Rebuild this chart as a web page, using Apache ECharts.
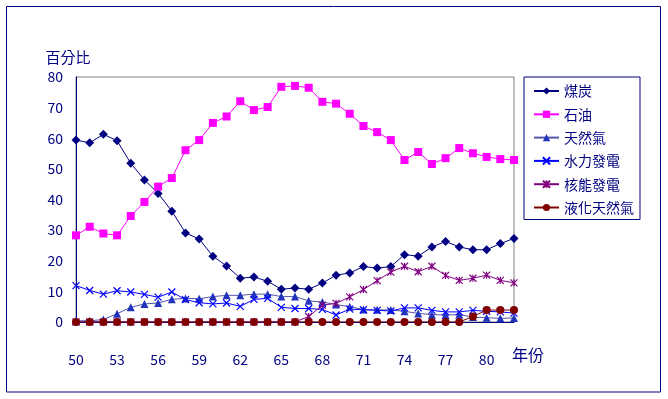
<!DOCTYPE html>
<html>
<head>
<meta charset="utf-8">
<script src="https://cdn.jsdelivr.net/npm/echarts@6/dist/echarts.min.js"></script>
<style>
  html, body { margin: 0; padding: 0; background: #fff; }
  #main { width: 668px; height: 399px; }
</style>
</head>
<body>
<div id="main"></div>
<script>
// 年份 50 ~ 82
var years = []
for (var y = 50; y <= 82; y++) years.push(String(y))

var coal = [59.4, 58.5, 61.3, 59.2, 51.8, 46.4, 42.0, 36.2, 29.1, 27.1, 21.5, 18.3, 14.3, 14.7, 13.3, 10.7,
  11.1, 10.7, 12.7, 15.3, 16.0, 18.1, 17.6, 18.1, 22.0, 21.5, 24.5, 26.3, 24.5, 23.6, 23.6, 25.6, 27.3]
var oil = [28.3, 31.1, 28.9, 28.3, 34.6, 39.2, 44.2, 47.0, 56.1, 59.4, 65.0, 67.1, 72.1, 69.2, 70.2, 76.8,
  77.1, 76.5, 71.9, 71.3, 68.0, 64.0, 62.0, 59.4, 52.9, 55.5, 51.6, 53.5, 56.8, 55.1, 53.9, 53.2, 52.9]
var gas = [0.4, 0.4, 0.8, 2.7, 4.8, 5.9, 6.2, 7.4, 7.7, 7.6, 8.3, 8.7, 8.7, 9.1, 9.1, 8.3,
  8.3, 6.9, 6.5, 5.7, 5.0, 4.1, 4.0, 3.9, 3.5, 2.8, 2.4, 2.3, 2.4, 1.6, 1.4, 1.2, 1.3]
var hydro = [11.9, 10.3, 9.1, 10.2, 9.8, 9.0, 8.1, 9.8, 7.3, 6.3, 5.9, 6.2, 5.1, 7.4, 7.7, 4.8,
  4.4, 4.4, 4.1, 2.3, 4.2, 4.0, 3.8, 3.6, 4.6, 4.6, 3.8, 3.3, 3.3, 3.8, 3.5, 3.3, 2.9]
var nuclear = [0, 0, 0, 0, 0, 0, 0, 0, 0, 0, 0, 0, 0, 0, 0, 0,
  0, 1.8, 5.5, 6.1, 8.2, 10.6, 13.5, 16.3, 18.2, 16.4, 18.2, 15.2, 13.6, 14.3, 15.3, 13.6, 12.8]
var lng = [0, 0, 0, 0, 0, 0, 0, 0, 0, 0, 0, 0, 0, 0, 0, 0,
  0, 0, 0, 0, 0, 0, 0, 0, 0, 0, 0, 0, 0, 1.8, 3.9, 3.9, 3.9]

var navy = '#000080'
var font = '"Noto Sans CJK TC", "Liberation Sans", sans-serif'

var xMark = 'path://M0,0L10,10M10,0L0,10'
var starMark = 'path://M0,0L10,10M10,0L0,10M5,0L5,10'

function line(name, data, lineColor, symbol, size, markColor, stroke) {
  return {
    name: name,
    type: 'line',
    data: data,
    symbol: symbol,
    symbolSize: size,
    showSymbol: true,
    showAllSymbol: true,
    lineStyle: { color: lineColor, width: 1 },
    itemStyle: stroke
      ? { color: markColor, borderColor: markColor, borderWidth: 1.2 }
      : { color: markColor, borderWidth: 0 },
    emphasis: { disabled: true }
  }
}

var myChart = echarts.init(document.getElementById('main'))

var option = {
  animation: false,
  textStyle: { fontFamily: font },
  grid: {
    left: 76, top: 77, right: 154, bottom: 77,
    show: true, borderColor: '#808080', borderWidth: 1
  },
  legend: {
    orient: 'vertical',
    left: 524, top: 77,
    padding: [7, 6, 5, 9],
    itemWidth: 25, itemHeight: 9, itemGap: 9.3,
    borderColor: navy, borderWidth: 1,
    selectedMode: false,
    textStyle: { color: navy, fontSize: 14, lineHeight: 14, fontFamily: font }
  },
  xAxis: {
    type: 'category',
    data: years,
    boundaryGap: false,
    axisLine: { lineStyle: { color: navy, width: 1 } },
    axisTick: { show: false },
    axisLabel: { interval: 2, color: navy, fontSize: 14, margin: 31, fontFamily: font },
    splitLine: { show: false }
  },
  yAxis: {
    type: 'value',
    min: 0, max: 80, interval: 10,
    name: '百分比',
    nameGap: 12,
    nameTextStyle: { color: navy, fontSize: 15, padding: [0, 16, 0, 0], fontFamily: font },
    axisLine: { show: true, lineStyle: { color: navy, width: 1 } },
    axisTick: { show: false },
    axisLabel: { color: navy, fontSize: 14, margin: 13, fontFamily: font },
    splitLine: { show: false }
  },
  graphic: [
    {
      type: 'rect',
      shape: { x: 6.5, y: 6.5, width: 654, height: 385.5 },
      style: { fill: 'none', stroke: navy, lineWidth: 1 },
      silent: true
    },
    {
      type: 'text',
      left: 512, top: 347,
      style: { text: '年份', fill: navy, font: '16px ' + font },
      silent: true
    }
  ],
  series: [
    line('煤炭', coal, navy, 'diamond', 9, navy, false),
    line('石油', oil, '#FF00FF', 'rect', 8, '#FF00FF', false),
    line('天然氣', gas, '#5555AA', 'triangle', 8, '#2233BB', false),
    line('水力發電', hydro, '#0000FF', xMark, 7, '#0000FF', true),
    line('核能發電', nuclear, '#800080', starMark, 7, '#800080', true),
    line('液化天然氣', lng, '#800000', 'circle', 8, '#800000', false)
  ]
}

myChart.setOption(option)
</script>
</body>
</html>
